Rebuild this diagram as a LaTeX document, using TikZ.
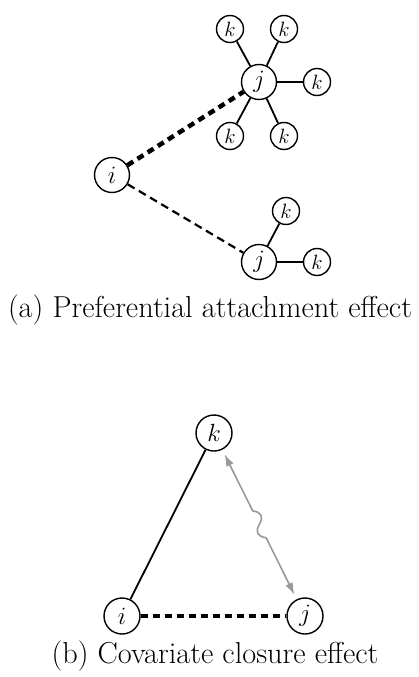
\documentclass[tikz,border=0pt]{standalone}
\usetikzlibrary{arrows.meta}
\begin{document}
\begin{tikzpicture}[x=1pt,y=-1pt,
  vtx/.style={circle,draw,line width=1.4pt,minimum size=35pt,inner sep=0pt,font=\fontsize{23}{27}\selectfont},
  svtx/.style={vtx,minimum size=27pt,font=\fontsize{21}{25}\selectfont},
  bvtx/.style={vtx,minimum size=36pt,font=\fontsize{25}{30}\selectfont},
  edge/.style={line width=1.8pt},
  thickdash/.style={line width=4.5pt,dash pattern=on 7pt off 5pt},
  thindash/.style={line width=2.2pt,dash pattern=on 8pt off 5pt},
  captext/.style={font=\fontsize{30.3}{36}\selectfont},
  grayarrow/.style={draw=gray!80,line width=1.6pt,line join=round,{Latex[length=12pt,width=8pt]}-{Latex[length=12pt,width=8pt]},
    shorten <=5pt, shorten >=5pt}
]
\useasboundingbox (0,0) rectangle (419,677);
% (a)
\node[vtx] (i) at (112,175) {$i$};
\node[vtx] (j1) at (259,82) {$j$};
\node[svtx] (k1) at (230,29) {$k$};
\node[svtx] (k2) at (284,29) {$k$};
\node[svtx] (k3) at (317,82) {$k$};
\node[svtx] (k4) at (230,136) {$k$};
\node[svtx] (k5) at (284,136) {$k$};
\node[vtx] (j2) at (259,262) {$j$};
\node[svtx] (k6) at (286,211) {$k$};
\node[svtx] (k7) at (317,262) {$k$};
\foreach \k in {k1,k2,k3,k4,k5} \draw[edge] (j1) -- (\k);
\draw[edge] (j2) -- (k6);
\draw[edge] (j2) -- (k7);
\draw[thickdash] (i) -- (j1);
\draw[thindash] (i) -- (j2);
\node[captext] (capa) at (210,310) {(a) Preferential attachment effect};
% (b)
\node[bvtx] (bk) at (214,433) {$k$};
\node[bvtx] (bi) at (122,616) {$i$};
\node[bvtx] (bj) at (305,616) {$j$};
\draw[edge] (bi) -- (bk);
\draw[thickdash] (bi) -- (bj);
\coordinate (w0) at (252.7,510.9);
\coordinate (c1) at (261.5,512.1);
\coordinate (c2) at (263.7,516.5);
\coordinate (wm) at (259.4,524.3);
\coordinate (c3) at (255.0,532.1);
\coordinate (c4) at (257.3,536.5);
\coordinate (w4) at (266.1,537.7);
\draw[grayarrow] (bk) -- (w0) .. controls (c1) and (c2) .. (wm)
  .. controls (c3) and (c4) .. (w4) -- (bj);
\node[captext] (capb) at (215,656) {(b) Covariate closure effect};
\end{tikzpicture}
\end{document}
